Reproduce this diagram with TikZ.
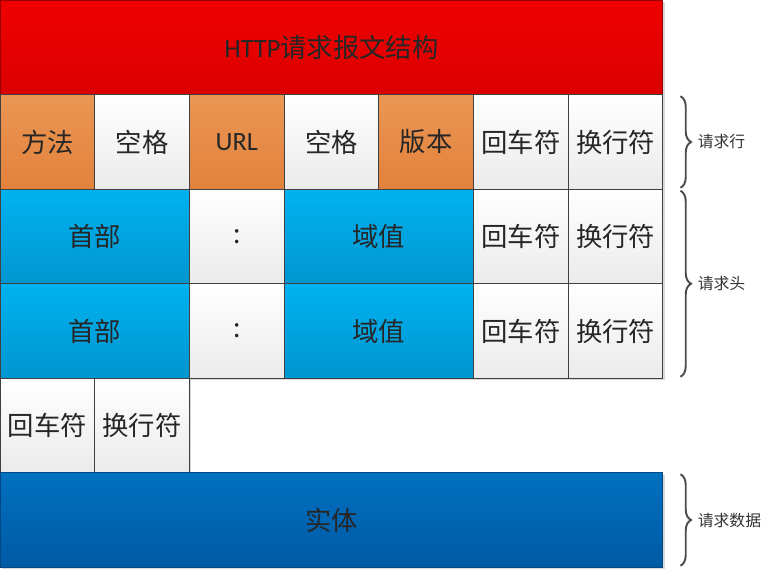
\documentclass[tikz,border=0pt]{standalone}
\usepackage{fontspec}
\setmainfont{Carlito}
\newfontfamily\cjk{Noto Sans CJK SC}
\newfontfamily\enfont{Carlito}
\usetikzlibrary{decorations.pathreplacing,shadows}

\definecolor{titleA}{RGB}{240,0,0}
\definecolor{titleB}{RGB}{218,0,0}
\definecolor{orangeA}{RGB}{234,150,84}
\definecolor{orangeB}{RGB}{226,130,60}
\definecolor{cyanA}{RGB}{0,178,240}
\definecolor{cyanB}{RGB}{0,150,208}
\definecolor{bodyA}{RGB}{0,112,192}
\definecolor{bodyB}{RGB}{0,90,164}

\begin{document}
\begin{tikzpicture}[x=0.02cm, y=-0.02cm,
		cell/.style={draw=black!75, line width=0.6pt, minimum width=1.894cm, minimum height=1.89cm,
			inner sep=0pt, font=\cjk\fontsize{15}{18}\selectfont, text=black!85,
			drop shadow={shadow xshift=0.04cm, shadow yshift=-0.04cm, fill=black!15, opacity=1}},
		wide/.style={cell, minimum width=3.788cm},
		blank/.style={top color=white, bottom color=black!8},
		method/.style={top color=orangeA, bottom color=orangeB},
		header/.style={top color=cyanA, bottom color=cyanB},
		brace/.style={decorate, decoration={brace, amplitude=6pt}, line width=1.1pt, draw=black!70},
		part/.style={font=\cjk\fontsize{9}{11}\selectfont, text=black!80, right=2pt}
		]
		
		\useasboundingbox (0,0) rectangle (763,572);
		
		% Title
		\node[cell, minimum width=13.26cm, top color=titleA, bottom color=titleB, draw=titleB!70!black] (title) at (331.5,47.5) {{\enfont HTTP}请求报文结构};
		
		% Request line
		\node[cell, method] (method) at (47.4,142) {方法};
		\node[cell, blank] (sp1) at (142.1,142) {空格};
		\node[cell, method] (url) at (236.8,142) {\enfont URL};
		\node[cell, blank] (sp2) at (331.5,142) {空格};
		\node[cell, method] (version) at (426.2,142) {版本};
		\node[cell, blank] (cr1) at (520.9,142) {回车符};
		\node[cell, blank] (lf1) at (615.6,142) {换行符};
		
		% Header lines
		\node[wide, header] (hd1) at (94.7,236.5) {首部};
		\node[cell, blank] (colon1) at (236.8,236.5) {:};
		\node[wide, header] (val1) at (378.9,236.5) {域值};
		\node[cell, blank] (cr2) at (520.9,236.5) {回车符};
		\node[cell, blank] (lf2) at (615.6,236.5) {换行符};
		
		\node[wide, header] (hd2) at (94.7,331) {首部};
		\node[cell, blank] (colon2) at (236.8,331) {:};
		\node[wide, header] (val2) at (378.9,331) {域值};
		\node[cell, blank] (cr3) at (520.9,331) {回车符};
		\node[cell, blank] (lf3) at (615.6,331) {换行符};
		
		% Empty line
		\node[cell, blank] (cr4) at (47.4,425.5) {回车符};
		\node[cell, blank] (lf4) at (142.1,425.5) {换行符};
		
		% Body
		\node[cell, minimum width=13.26cm, top color=bodyA, bottom color=bodyB, draw=bodyB!80!black] (body) at (331.5,520) {实体};
		
		% Braces
		\draw[brace] ([xshift=0.34cm, yshift=-0.04cm]lf1.north east) -- ([xshift=0.34cm, yshift=0.04cm]lf1.south east) node[midway, part, xshift=4pt] {请求行};
		\draw[brace] ([xshift=0.34cm, yshift=-0.04cm]lf2.north east) -- ([xshift=0.34cm, yshift=0.04cm]lf3.south east) node[midway, part, xshift=4pt] {请求头};
		\draw[brace] ([xshift=0.34cm, yshift=-0.04cm]body.north east) -- ([xshift=0.34cm, yshift=0.04cm]body.south east) node[midway, part, xshift=4pt] {请求数据};
		
	\end{tikzpicture}
\end{document}
